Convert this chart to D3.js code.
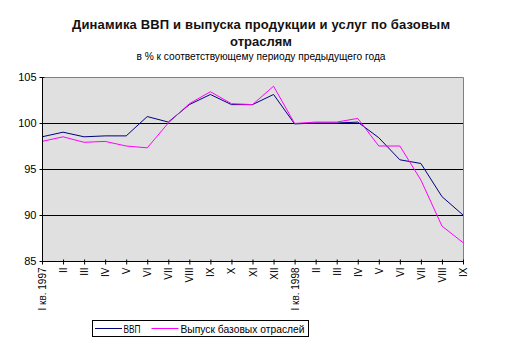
<!DOCTYPE html>
<html><head><meta charset="utf-8">
<script src="https://cdn.jsdelivr.net/npm/d3@7"></script>
<style>body{margin:0;background:#fff}svg{display:block;font-family:"Liberation Sans",Arial,sans-serif}</style>
</head><body>
<svg id="c" width="531" height="350"></svg>
<script>
const categories = ["I кв. 1997","II","III","IV","V","VI","VII","VIII","IX","X","XI","XII","I кв. 1998","II","III","IV","V","VI","VII","VIII","IX"];
const gdp    = [98.5,99.0,98.5,98.6,98.6,100.7,100.1,102.0,103.1,102.0,102.0,103.1,99.9,100.0,100.0,100.1,98.4,96.0,95.6,92.0,90.0];
const output = [98.0,98.5,97.9,98.0,97.5,97.3,100.0,102.1,103.4,102.1,102.0,104.0,99.95,100.1,100.1,100.5,97.5,97.5,93.8,88.8,87.0];
const yTicks = [85,90,95,100,105];
const seriesNames = ["ВВП","Выпуск базовых отраслей"];
const seriesColors = ["#000080","#ff00ff"];

const svg = d3.select("#c");
const L=42,R=463,T=77,B=261;
const x = d3.scalePoint().domain(d3.range(categories.length)).range([L,R]);
const y = d3.scaleLinear().domain([85,105]).range([B,T]);

svg.append("rect").attr("x",L).attr("y",T).attr("width",R-L).attr("height",B-T).attr("fill","#e0e0e0");
svg.append("g").selectAll("line").data(yTicks.filter(v=>v>85&&v<105)).join("line")
  .attr("x1",L).attr("x2",R).attr("y1",d=>y(d)+0.5).attr("y2",d=>y(d)+0.5).attr("stroke","#000").attr("stroke-width",1);
svg.append("path").attr("d",`M${L},${T+0.5}H${R+0.5}V${B}`).attr("fill","none").attr("stroke","#808080");

const line = d3.line().x((d,i)=>x(i)).y(d=>y(d));
[gdp,output].forEach((s,k)=>{
  svg.append("path").datum(s).attr("d",line).attr("fill","none").attr("stroke",seriesColors[k]).attr("stroke-width",1);
});

const ya = d3.axisLeft(y).tickValues(yTicks).tickSize(3).tickFormat(d3.format("d"));
const gy = svg.append("g").attr("transform",`translate(${L+0.5},0)`).call(ya);
gy.select(".domain").attr("d",`M0,${T}V${B}`).attr("stroke","#000");
gy.selectAll(".tick line").attr("x1",-3).attr("x2",2).attr("stroke","#000");
gy.selectAll(".tick text").attr("x",-6).attr("font-size",11).attr("fill","#000").attr("font-family","Liberation Sans, Arial, sans-serif");

const xa = d3.axisBottom(x).tickSize(3).tickFormat(i=>categories[i]);
const gx = svg.append("g").attr("transform",`translate(0,${B+0.5})`).call(xa);
gx.select(".domain").attr("d",`M${L},0H${R}`).attr("stroke","#000");
gx.selectAll(".tick line").attr("y1",-2).attr("y2",3).attr("stroke","#000");
gx.selectAll(".tick text").attr("font-size",10).attr("fill","#000").attr("font-family","Liberation Sans, Arial, sans-serif")
  .attr("transform","rotate(-90)").attr("text-anchor","end").attr("x",-6).attr("y",0).attr("dy","0.35em");

svg.append("text").attr("x",261).attr("y",29).attr("text-anchor","middle").attr("font-size",13).attr("font-weight","bold").attr("fill","#111")
  .attr("textLength",378).attr("lengthAdjust","spacing")
  .text("Динамика ВВП и выпуска продукции и услуг по базовым");
svg.append("text").attr("x",261).attr("y",46).attr("text-anchor","middle").attr("font-size",13).attr("font-weight","bold").attr("fill","#111")
  .text("отраслям");
svg.append("text").attr("x",261).attr("y",60).attr("text-anchor","middle").attr("font-size",10).attr("fill","#000").attr("textLength",249).attr("lengthAdjust","spacingAndGlyphs")
  .text("в % к соответствующему периоду предыдущего года");

const lg = svg.append("g");
lg.append("rect").attr("x",92.5).attr("y",320.5).attr("width",216).attr("height",16).attr("fill","#fff").attr("stroke","#000");
const lx=[95,151.5], tx=[123.5,180.5], tl=[17,124];
seriesNames.forEach((n,k)=>{
  lg.append("line").attr("x1",lx[k]).attr("x2",lx[k]+27).attr("y1",328.5).attr("y2",328.5).attr("stroke",seriesColors[k]);
  lg.append("text").attr("x",tx[k]).attr("y",332.5).attr("font-size",11).attr("fill","#000")
    .attr("textLength",tl[k]).attr("lengthAdjust","spacingAndGlyphs").text(n);
});
</script>
</body></html>
